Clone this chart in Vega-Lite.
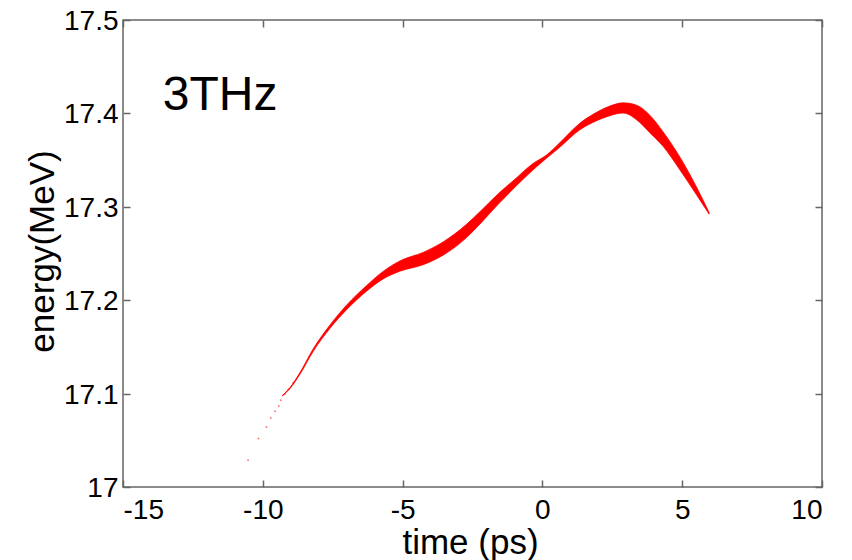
{
  "$schema": "https://vega.github.io/schema/vega-lite/v6.json",
  "width": 699,
  "height": 467,
  "autosize": {"type": "none"},
  "padding": {"left": 123, "top": 20, "right": 30, "bottom": 73},
  "background": "white",
  "config": {
    "view": {"stroke": "#666666", "strokeWidth": 1.5},
    "axis": {
      "grid": false,
      "domainColor": "#666666",
      "domainWidth": 1.5,
      "tickColor": "#666666",
      "tickWidth": 1.5,
      "labelFont": "Liberation Sans",
      "labelFontSize": 28,
      "labelColor": "#000000",
      "titleFont": "Liberation Sans",
      "titleFontSize": 35,
      "titleFontWeight": "normal",
      "titleColor": "#000000"
    }
  },
  "datasets": {
    "band": [
      {"t": -9.30, "lo": 17.0975, "hi": 17.0979},
      {"t": -9.034, "lo": 17.1052, "hi": 17.1062},
      {"t": -8.677, "lo": 17.1205, "hi": 17.1222},
      {"t": -8.201, "lo": 17.1451, "hi": 17.1477},
      {"t": -7.604, "lo": 17.1696, "hi": 17.1732},
      {"t": -7.006, "lo": 17.1898, "hi": 17.1946},
      {"t": -6.291, "lo": 17.2096, "hi": 17.2156},
      {"t": -5.697, "lo": 17.2228, "hi": 17.2308},
      {"t": -5.100, "lo": 17.2310, "hi": 17.2420},
      {"t": -4.267, "lo": 17.2380, "hi": 17.2512},
      {"t": -3.551, "lo": 17.2482, "hi": 17.2624},
      {"t": -2.715, "lo": 17.2670, "hi": 17.2812},
      {"t": -2.239, "lo": 17.2814, "hi": 17.2946},
      {"t": -1.524, "lo": 17.3045, "hi": 17.3155},
      {"t": -1.048, "lo": 17.3190, "hi": 17.3278},
      {"t": -0.333, "lo": 17.3396, "hi": 17.3464},
      {"t": 0.147, "lo": 17.3520, "hi": 17.3554},
      {"t": 0.622, "lo": 17.3638, "hi": 17.3686},
      {"t": 1.338, "lo": 17.3824, "hi": 17.3894},
      {"t": 1.935, "lo": 17.3921, "hi": 17.4011},
      {"t": 2.411, "lo": 17.3976, "hi": 17.4078},
      {"t": 2.886, "lo": 17.4004, "hi": 17.4113},
      {"t": 3.366, "lo": 17.3933, "hi": 17.4088},
      {"t": 3.841, "lo": 17.3794, "hi": 17.3981},
      {"t": 4.317, "lo": 17.3647, "hi": 17.3802},
      {"t": 4.914, "lo": 17.3397, "hi": 17.3534},
      {"t": 5.511, "lo": 17.3129, "hi": 17.3212},
      {"t": 5.962, "lo": 17.2922, "hi": 17.2939}
    ],
    "dots": [
      {"t": -10.526, "E": 17.0286},
      {"t": -10.154, "E": 17.0519},
      {"t": -9.868, "E": 17.0643},
      {"t": -9.714, "E": 17.0740},
      {"t": -9.560, "E": 17.0811},
      {"t": -9.428, "E": 17.0868},
      {"t": -9.356, "E": 17.0929},
      {"t": -9.213, "E": 17.0994},
      {"t": -9.081, "E": 17.1047},
      {"t": -8.916, "E": 17.1115}
    ],
    "label": [
      {"t": -13.58, "E": 17.4037, "text": "3THz"}
    ]
  },
  "layer": [
    {
      "data": {"name": "band"},
      "mark": {"type": "area", "color": "#ff0000", "interpolate": "monotone", "stroke": "#ff0000", "strokeWidth": 0.8},
      "encoding": {
        "x": {
          "field": "t", "type": "quantitative",
          "scale": {"domain": [-15, 10], "nice": false, "zero": false},
          "axis": {
            "orient": "bottom",
            "values": [-15, -10, -5, 0, 5, 10],
            "ticks": false,
            "tickSize": 0,
            "domain": false,
            "labelPadding": 9.5,
            "labelBaseline": "top",
            "labelExpr": "datum.value + ''",
            "title": "time (ps)",
            "titleX": 347,
            "titleAlign": "center",
            "titleY": 66,
            "titleBaseline": "alphabetic"
          }
        },
        "y": {
          "field": "hi", "type": "quantitative",
          "scale": {"domain": [17, 17.5], "nice": false, "zero": false},
          "axis": {
            "orient": "left",
            "values": [17, 17.1, 17.2, 17.3, 17.4, 17.5],
            "ticks": false,
            "tickSize": 0,
            "domain": false,
            "labelPadding": 5,
            "labelOffset": 1.5,
            "labelExpr": "format(datum.value, '.1~f')",
            "title": "energy(MeV)",
            "titleX": -70,
            "titleY": 231,
            "titleAngle": -90,
            "titleAlign": "center",
            "titleBaseline": "alphabetic"
          }
        },
        "y2": {"field": "lo"}
      }
    },
    {
      "data": {"name": "dots"},
      "mark": {"type": "point", "filled": true, "color": "#ff0000", "opacity": 0.5, "size": 4},
      "encoding": {
        "x": {
          "field": "t", "type": "quantitative",
          "axis": {"orient": "bottom", "offset": -7, "values": [-15, -10, -5, 0, 5, 10], "tickSize": 7, "labels": false, "title": null, "domain": false}
        },
        "y": {
          "field": "E", "type": "quantitative",
          "axis": {"orient": "left", "offset": -7, "values": [17, 17.1, 17.2, 17.3, 17.4, 17.5], "tickSize": 7, "labels": false, "title": null, "domain": false}
        }
      }
    },
    {
      "data": {"name": "dots"},
      "mark": {"type": "point", "filled": true, "color": "#ff0000", "opacity": 0, "size": 4},
      "encoding": {
        "x": {
          "field": "t", "type": "quantitative",
          "axis": {"orient": "top", "offset": -7, "values": [-15, -10, -5, 0, 5, 10], "tickSize": 7, "labels": false, "title": null, "domain": false}
        },
        "y": {
          "field": "E", "type": "quantitative",
          "axis": {"orient": "right", "offset": -7, "values": [17, 17.1, 17.2, 17.3, 17.4, 17.5], "tickSize": 7, "labels": false, "title": null, "domain": false}
        }
      }
    },
    {
      "data": {"name": "label"},
      "mark": {"type": "text", "align": "left", "baseline": "alphabetic", "font": "Liberation Sans", "fontSize": 48, "color": "#000000"},
      "encoding": {
        "x": {"field": "t", "type": "quantitative", "axis": null},
        "y": {"field": "E", "type": "quantitative", "axis": null},
        "text": {"field": "text"}
      }
    }
  ],
  "resolve": {"axis": {"x": "independent", "y": "independent"}}
}
